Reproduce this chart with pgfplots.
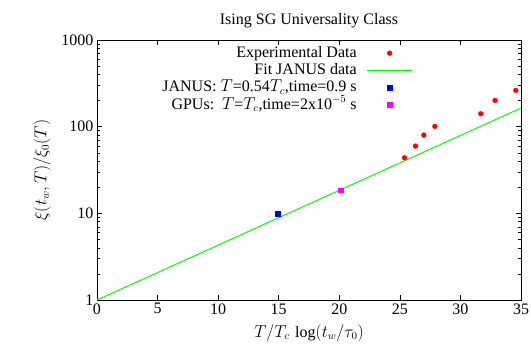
\documentclass[border=0pt]{standalone}
\usepackage{fontspec}
\setmainfont{Liberation Serif}
\usepackage{pgfplots}
\pgfplotsset{compat=1.18}
\newcommand\ff{\fontsize{16bp}{17bp}\selectfont}
\definecolor{gpgreen}{RGB}{0,255,0}
\definecolor{gpblue}{RGB}{0,0,255}
\definecolor{gpmag}{RGB}{255,0,255}
\begin{document}
\begin{tikzpicture}
\begin{axis}[
  scale only axis,
  width=424bp, height=260bp,
  xmin=0, xmax=35,
  ymode=log, ymin=1, ymax=1000,
  xtick={0,5,...,35},
  ytick={1,10,100,1000},
  yticklabels={1,10,100,1000},
  log ticks with fixed point,
  /pgf/number format/assume math mode=true,
  major tick length=5bp, minor tick length=3bp,
  tick style={black, line width=0.5pt},
  axis line style={black, line width=0.8pt},
  every tick label/.append style={font=\ff},
  label style={font=\ff},
  title style={font=\ff, yshift=3bp},
  title={Ising SG Universality Class},
  xlabel={$T/T_c\,\log(t_w/\tau_0)$},
  ylabel={$\xi(t_w,T)/\xi_0(T)$},
  xlabel shift=3bp, ylabel shift=4bp,
  legend style={draw=none, fill=none, font=\ff, at={(0.745,0.977)}, anchor=north east, inner sep=0pt, row sep=3.3bp, column sep=10bp,
    nodes={inner sep=0pt, text height=11bp, text depth=3bp},
    cells={anchor=east}},
  legend plot pos=right,
  legend image code/.code={\draw[mark repeat=2,mark phase=2,#1] plot coordinates {(0bp,0bp) (22.5bp,0bp) (45bp,0bp)};},
]
\addplot[only marks, mark=*, color=red, mark size=2.4bp] coordinates {
(25.38,43.8) (26.29,59.7) (26.98,80) (27.89,100.7) (31.68,141) (32.86,201) (34.57,262)
};
\addlegendentry{Experimental Data}
\addplot[color=gpgreen, line width=1pt] coordinates {(0,1) (35,164)};
\addlegendentry{Fit JANUS data}
\addplot[only marks, mark=square*, color=gpblue, mark size=2.4bp] coordinates {(14.9,10)};
\addlegendentry{JANUS: $T$=0.54$T_c$,time=0.9 s}
\addplot[only marks, mark=square*, color=gpmag, mark size=2.4bp] coordinates {(20.1,18.5)};
\addlegendentry{GPUs:\ \ $T$=$T_c$,time=2x10$^{-5}$ s}
\end{axis}
\pgfresetboundingbox
\path[use as bounding box] (-97bp,-52bp) rectangle (434bp,300bp);
\end{tikzpicture}
\end{document}
